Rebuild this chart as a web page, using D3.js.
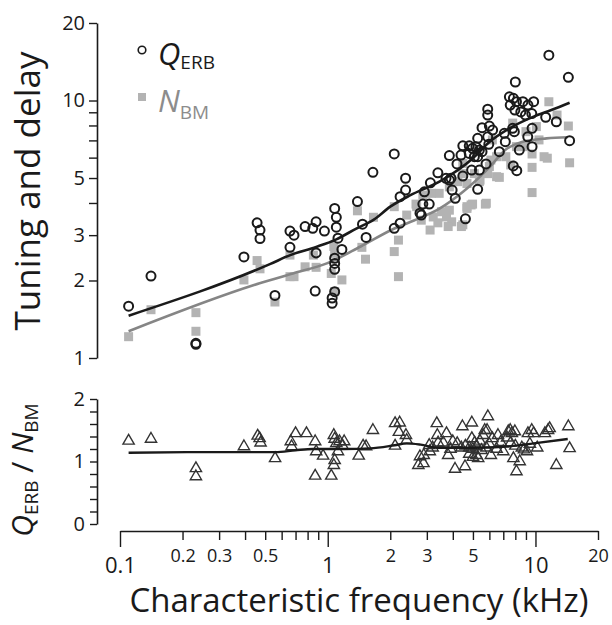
<!DOCTYPE html>
<html>
<head>
<meta charset="utf-8">
<script src="https://cdn.jsdelivr.net/npm/d3@7"></script>
<style>
  body { margin: 0; background: #fff; }
  svg { font-family: "Open Sans", sans-serif; }
</style>
</head>
<body>
<div id="chart"></div>
<script>
// Q_ERB (open circles)
var qFreq = [0.11, 0.141, 0.232, 0.232, 0.395, 0.457, 0.472, 0.472, 0.557, 0.658, 0.688, 0.658, 0.778,
  0.879, 0.847, 0.964, 0.879, 1.08, 1.10, 1.10, 1.12, 1.17, 1.08, 1.08, 1.08, 0.87, 1.08, 1.05, 1.05,
  1.39, 1.47, 1.53, 1.65, 2.09, 2.09, 2.23, 2.23, 2.37, 2.37, 2.78, 2.82, 2.87, 3.08, 2.92, 3.12, 3.39,
  3.71, 3.85, 3.92, 3.97, 4.11, 4.60, 5.27, 4.38, 4.19, 3.85, 4.47, 4.93, 5.37, 5.78, 4.47, 4.80, 4.98,
  5.17, 5.37, 4.80, 5.08, 5.27, 5.96, 5.53, 5.89, 5.89, 5.53, 6.00, 6.22, 7.08, 7.77, 7.91, 5.27, 5.89,
  7.16, 6.70, 8.36, 9.18, 9.63, 9.63, 7.82, 8.13, 7.49, 7.83, 8.1, 8.7, 9.2, 9.8, 7.56, 7.96, 8.5, 8.95,
  9.6, 8.00, 11.6, 14.4, 11.2, 12.6, 14.6];
var qVal = [1.59, 2.08, 1.14, 1.13, 2.47, 3.35, 3.14, 2.91, 1.75, 3.11, 3.00, 2.69, 3.24,
  3.38, 3.19, 3.11, 2.56, 3.81, 3.52, 3.22, 2.92, 2.64, 2.44, 2.33, 2.21, 1.82, 1.81, 1.71, 1.63,
  4.05, 3.31, 2.94, 5.26, 6.20, 3.19, 3.34, 4.23, 4.99, 4.49, 3.65, 3.59, 3.96, 3.96, 4.42, 4.79, 5.24,
  4.99, 4.91, 4.99, 4.49, 4.17, 3.47, 4.52, 6.14, 5.67, 6.11, 5.09, 5.37, 5.37, 5.67, 6.67, 6.67, 6.52,
  6.62, 6.42, 6.23, 6.05, 6.05, 6.76, 6.33, 9.25, 8.78, 7.84, 7.96, 7.68, 7.46, 7.80, 7.57, 7.13, 7.23,
  6.92, 6.33, 6.42, 7.23, 7.80, 6.62, 5.57, 5.34, 10.34, 10.2, 9.9, 9.9, 9.6, 9.9, 9.6, 9.18, 9.03, 8.78,
  8.9, 11.8, 15.0, 12.3, 8.61, 8.27, 6.98];

// N_BM (grey squares)
var nFreq = [0.11, 0.141, 0.232, 0.232, 0.395, 0.457, 0.472, 0.557, 0.658, 0.658, 0.688, 0.778, 0.853,
  0.879, 1.07, 1.04, 1.17, 1.08, 1.08, 1.39, 1.66, 1.46, 1.52, 2.09, 2.09, 2.19, 2.19, 2.4, 2.66, 2.68,
  2.82, 3.22, 3.53, 3.73, 3.95, 3.80, 3.11, 3.39, 3.85, 4.47, 4.4, 4.68, 4.68, 4.9, 4.98, 5.74, 5.8, 4.23,
  5.37, 5.41, 5.89, 4.47, 5.08, 4.68, 3.85, 3.44, 2.87, 3.15, 4.47, 6.0, 6.1, 6.5, 6.5, 6.70, 7.6, 7.2,
  8.1, 8.9, 9.0, 10.1, 7.77, 10.4, 6.2, 9.63, 9.63, 9.63, 11.0, 11.4, 11.6, 12.7, 14.4, 14.6];
var nVal = [1.21, 1.54, 1.50, 1.27, 2.01, 2.39, 2.22, 1.65, 2.51, 2.07, 2.07, 2.26, 2.51,
  2.25, 2.71, 2.13, 2.01, 1.81, 2.55, 3.73, 3.52, 2.69, 2.42, 2.59, 3.87, 2.87, 2.07, 3.59, 3.96, 3.87,
  3.43, 3.53, 3.70, 3.53, 3.38, 3.24, 3.14, 3.35, 3.75, 3.29, 3.24, 3.81, 3.87, 3.93, 3.96, 3.96, 3.99, 4.84,
  4.84, 4.91, 5.20, 5.20, 5.20, 4.76, 4.62, 4.36, 4.29, 4.36, 5.70, 5.54, 5.87, 5.06, 6.05, 5.03, 5.62, 6.05,
  6.62, 6.62, 7.57, 7.92, 8.17, 7.03, 7.03, 6.20, 5.50, 4.39, 6.05, 5.97, 9.89, 8.78, 7.96, 5.73];

// smoothed fits, top panel
var qFitFreq = [0.11, 0.53, 0.66, 0.88, 1.1, 1.38, 1.66, 2.0, 2.5, 3.45, 5.0, 6.0, 7.5, 9.8, 12, 14.6];
var qFit = [1.46, 2.32, 2.51, 2.70, 2.89, 3.19, 3.44, 3.87, 4.29, 4.84, 5.97, 6.9, 7.8, 8.66, 9.2, 9.8];
var nFitFreq = [0.11, 0.47, 0.68, 0.99, 1.44, 2.07, 2.6, 3.45, 4.48, 6.0, 7.2, 8.6, 11.3, 14.3];
var nFit = [1.27, 1.95, 2.13, 2.33, 2.71, 3.17, 3.42, 3.80, 4.42, 5.5, 6.45, 6.9, 7.13, 7.2];

// Q_ERB / N_BM (triangles)
var rFreq = [0.11, 0.141, 0.232, 0.232, 0.395, 0.46, 0.47, 0.475, 0.558, 0.664, 0.67, 0.70, 0.79, 0.87,
  0.88, 0.87, 0.95, 1.07, 1.08, 1.10, 1.14, 1.08, 1.07, 1.04, 1.12, 1.65, 2.11, 2.22, 2.2, 2.38, 2.4,
  2.11, 1.48, 1.53, 1.41, 1.2, 1.18, 3.35, 3.37, 3.73, 4.45, 4.94, 5.9, 5.85, 5.6, 3.08, 3.1, 2.78, 2.73,
  2.89, 3.8, 4.1, 4.58, 3.6, 4.0, 4.2, 4.94, 5.2, 5.3, 6.2, 7.0, 7.4, 7.56, 7.7, 7.96, 7.83, 8.4, 8.1,
  9.2, 9.6, 9.8, 9.1, 11.1, 11.5, 11.7, 12.6, 14.4, 14.6, 4.6, 4.8, 5.0, 5.2, 5.5, 5.8, 6.0, 6.5, 5.1,
  5.4, 4.4, 3.9, 6.8, 7.3, 7.6, 8.0, 8.6, 8.8, 9.4, 10.2, 6.6, 5.7, 4.8, 5.0, 6.1, 3.2, 2.9, 3.4];
var rVal = [1.33, 1.36, 0.89, 0.76, 1.24, 1.41, 1.37, 1.30, 1.05, 1.32, 1.24, 1.45, 1.45, 1.32,
  1.16, 0.77, 1.09, 1.42, 1.36, 1.29, 1.32, 1.02, 0.94, 0.77, 1.16, 1.50, 1.61, 1.62, 1.47, 1.42, 1.34,
  1.25, 1.25, 1.24, 1.09, 1.32, 1.25, 1.61, 1.42, 1.45, 1.56, 1.62, 1.72, 1.50, 1.42, 1.26, 1.16, 1.08, 0.94,
  0.97, 1.10, 0.88, 0.92, 1.30, 1.32, 1.29, 1.37, 1.10, 1.05, 1.37, 1.16, 1.48, 1.50, 1.45, 1.48, 1.05, 1.00, 0.84,
  1.45, 1.50, 1.45, 1.16, 1.45, 1.50, 1.53, 0.94, 1.56, 1.21, 1.25, 1.22, 1.20, 1.24, 1.18, 1.22, 1.28, 1.20, 1.30,
  1.33, 1.22, 1.20, 1.31, 1.38, 1.30, 1.25, 1.22, 1.19, 1.28, 1.22, 1.42, 1.50, 1.12, 1.07, 1.10, 1.22, 1.10, 1.30];
var rFitFreq = [0.11, 0.23, 0.56, 0.7, 0.85, 1.2, 1.6, 2.1, 2.4, 2.8, 3.4, 5.0, 7.3, 9.8, 14.3];
var rFit = [1.14, 1.15, 1.15, 1.18, 1.20, 1.20, 1.21, 1.26, 1.29, 1.27, 1.22, 1.22, 1.24, 1.29, 1.36];

var xTicks = [0.1, 0.2, 0.3, 0.4, 0.5, 0.6, 0.7, 0.8, 0.9, 1, 2, 3, 4, 5, 6, 7, 8, 9, 10, 20];
var xBig = [0.1, 1, 10];
var xSmall = [0.2, 0.3, 0.5, 2, 3, 5, 20];
var yTicksTop = [1, 2, 3, 4, 5, 6, 7, 8, 9, 10, 20];
var yLabelsTop = [1, 2, 3, 5, 10, 20];
var yTicksBot = [0, 0.2, 0.4, 0.6, 0.8, 1, 1.2, 1.4, 1.6, 1.8, 2];
var yLabelsBot = [0, 1, 2];

var width = 612, height = 625;

var svg = d3.select('#chart').append('svg')
  .attr('width', width)
  .attr('height', height);

var x = d3.scaleLog().domain([0.1, 20]).range([120, 598]);
var yTop = d3.scaleLog().domain([1, 20]).range([358, 23]);
var yBot = d3.scaleLinear().domain([0, 2]).range([524, 399]);

var axisX = 97;

// ---- axes ----
var gTop = svg.append('g').attr('transform', 'translate(' + axisX + ',0)')
  .call(d3.axisLeft(yTop).tickValues(yTicksTop).tickSize(8).tickSizeOuter(0)
    .tickFormat(function(d) { return yLabelsTop.indexOf(d) >= 0 ? d : ''; }));

var gBot = svg.append('g').attr('transform', 'translate(' + axisX + ',0)')
  .call(d3.axisLeft(yBot).tickValues(yTicksBot).tickSize(7).tickSizeOuter(0)
    .tickFormat(function(d) { return yLabelsBot.indexOf(d) >= 0 ? d : ''; }));

[gTop, gBot].forEach(function(g) {
  g.selectAll('path.domain').attr('stroke', '#1a1a1a').attr('stroke-width', 1.6);
  g.selectAll('.tick line').attr('stroke', '#1a1a1a').attr('stroke-width', 1.4);
  g.selectAll('.tick text')
    .attr('x', -12)
    .style('font-size', '20px')
    .style('font-family', '"Open Sans", sans-serif')
    .attr('fill', '#1a1a1a');
});

var gX = svg.append('g').attr('transform', 'translate(0,531)')
  .call(d3.axisBottom(x).tickValues(xTicks).tickSize(8).tickSizeOuter(0)
    .tickFormat(function(d) { return (xBig.indexOf(d) >= 0 || xSmall.indexOf(d) >= 0) ? d : ''; }));
gX.selectAll('path.domain').attr('stroke', '#1a1a1a').attr('stroke-width', 1.6);
gX.selectAll('.tick line').attr('stroke', '#1a1a1a').attr('stroke-width', 1.4)
  .attr('y2', function(d) { return xBig.indexOf(d) >= 0 ? 16 : 9; });
gX.selectAll('.tick text')
  .style('font-family', '"Open Sans", sans-serif')
  .attr('fill', '#1a1a1a')
  .attr('dy', null)
  .attr('y', function(d) { return xBig.indexOf(d) >= 0 ? 42 : 31; })
  .style('font-size', function(d) { return xBig.indexOf(d) >= 0 ? '22px' : '18px'; });

// ---- top panel marks ----
var lineTop = function(fr, vals) {
  return d3.line()
    .x(function(d, i) { return x(fr[i]); })
    .y(function(d) { return yTop(d); })
    .curve(d3.curveMonotoneX)(vals);
};

svg.append('g').selectAll('rect')
  .data(nVal).enter().append('rect')
  .attr('x', function(d, i) { return x(nFreq[i]) - 4.5; })
  .attr('y', function(d) { return yTop(d) - 4.5; })
  .attr('width', 9).attr('height', 9)
  .attr('fill', '#b3b3b3');

svg.append('path').attr('d', lineTop(nFitFreq, nFit))
  .attr('fill', 'none').attr('stroke', '#858585').attr('stroke-width', 2.6);
svg.append('path').attr('d', lineTop(qFitFreq, qFit))
  .attr('fill', 'none').attr('stroke', '#1a1a1a').attr('stroke-width', 2.6);

svg.append('g').selectAll('circle')
  .data(qVal).enter().append('circle')
  .attr('cx', function(d, i) { return x(qFreq[i]); })
  .attr('cy', function(d) { return yTop(d); })
  .attr('r', 4.5)
  .attr('fill', 'none')
  .attr('stroke', '#1a1a1a')
  .attr('stroke-width', 2);

// ---- bottom panel marks ----
var tri = d3.symbol().type(d3.symbolTriangle).size(55);
svg.append('g').selectAll('path')
  .data(rVal).enter().append('path')
  .attr('d', tri)
  .attr('transform', function(d, i) { return 'translate(' + x(rFreq[i]) + ',' + yBot(d) + ')'; })
  .attr('fill', 'none')
  .attr('stroke', '#333')
  .attr('stroke-width', 1.4);

svg.append('path')
  .attr('d', d3.line()
    .x(function(d, i) { return x(rFitFreq[i]); })
    .y(function(d) { return yBot(d); })
    .curve(d3.curveMonotoneX)(rFit))
  .attr('fill', 'none').attr('stroke', '#1a1a1a').attr('stroke-width', 2.4);

// ---- legend ----
svg.append('circle').attr('cx', 142).attr('cy', 50).attr('r', 3.8)
  .attr('fill', 'none').attr('stroke', '#1a1a1a').attr('stroke-width', 1.6);
svg.append('rect').attr('x', 138).attr('y', 93).attr('width', 8).attr('height', 8)
  .attr('fill', '#b3b3b3');

var lq = svg.append('text').attr('x', 158).attr('y', 65).attr('fill', '#1a1a1a')
  .style('font-size', '31px');
lq.append('tspan').style('font-style', 'italic').text('Q');
lq.append('tspan').attr('dy', 4).style('font-size', '19px').text('ERB');

var ln = svg.append('text').attr('x', 158).attr('y', 112).attr('fill', '#8c8c8c')
  .style('font-size', '31px');
ln.append('tspan').style('font-style', 'italic').text('N');
ln.append('tspan').attr('dy', 7).style('font-size', '19px').text('BM');

// ---- axis titles ----
svg.append('text')
  .attr('transform', 'translate(40,191) rotate(-90)')
  .attr('text-anchor', 'middle')
  .attr('fill', '#1a1a1a')
  .style('font-size', '35px')
  .text('Tuning and delay');

var rt = svg.append('text')
  .attr('transform', 'translate(33,470) rotate(-90)')
  .attr('text-anchor', 'middle')
  .attr('fill', '#1a1a1a')
  .style('font-size', '30px');
rt.append('tspan').style('font-style', 'italic').text('Q');
rt.append('tspan').attr('dy', 5).style('font-size', '19px').text('ERB');
rt.append('tspan').attr('dy', -5).text(' / ');
rt.append('tspan').style('font-style', 'italic').text('N');
rt.append('tspan').attr('dy', 5).style('font-size', '19px').text('BM');

svg.append('text')
  .attr('x', 359).attr('y', 612)
  .attr('text-anchor', 'middle')
  .attr('fill', '#1a1a1a')
  .style('font-size', '33px')
  .text('Characteristic frequency (kHz)');
</script>
</body>
</html>
